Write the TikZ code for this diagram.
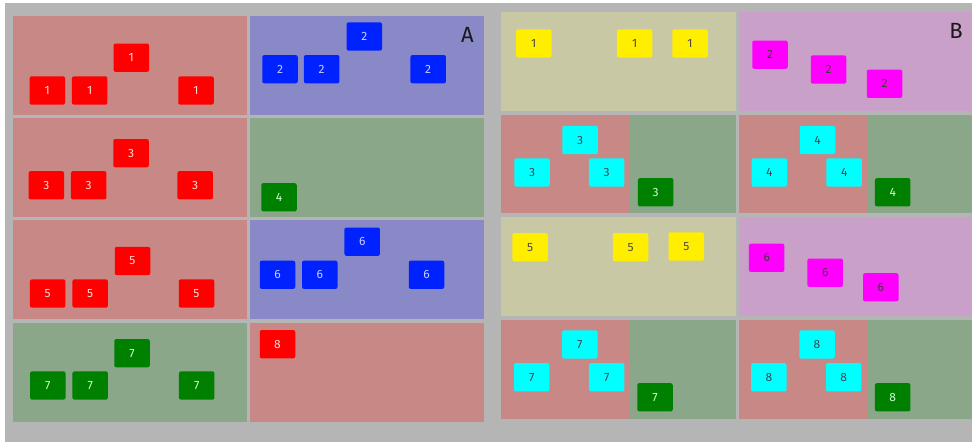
\documentclass[tikz,border=0pt]{standalone}
\usepackage{fontspec}
\setmainfont{Fira Sans}
\definecolor{bggray}{HTML}{B5B5B5}
\definecolor{cellred}{HTML}{C88886}
\definecolor{cellblue}{HTML}{8A89C8}
\definecolor{cellgreen}{HTML}{8AA889}
\definecolor{cellyellow}{HTML}{C8C8A4}
\definecolor{cellpink}{HTML}{C8A0C8}
\definecolor{tred}{HTML}{FF0000}
\definecolor{tblue}{HTML}{0022FF}
\definecolor{tgreen}{HTML}{008000}
\definecolor{tyellow}{HTML}{FFEE00}
\definecolor{tmag}{HTML}{FF00FF}
\definecolor{tcyan}{HTML}{00FFFF}
\tikzset{
  tilebase/.style={rectangle, rounded corners=2pt, minimum width=35.5pt, minimum height=28.3pt, inner sep=0pt, font=\fontsize{12}{12}\selectfont},
  tR/.style={tilebase, fill=tred, text=red!15!white},
  tB/.style={tilebase, fill=tblue, text=blue!20!white},
  tG/.style={tilebase, fill=tgreen, text=green!20!white},
  tY/.style={tilebase, fill=tyellow, text=black!80!yellow},
  tM/.style={tilebase, fill=tmag, text=black!85!magenta},
  tC/.style={tilebase, fill=tcyan, text=black!80!cyan},
  panellabel/.style={font=\fontsize{22}{22}\selectfont, text=black!90, inner sep=0pt}
}
\begin{document}
\begin{tikzpicture}[x=1pt,y=-1pt]
\useasboundingbox (0,0) rectangle (972,442);
\fill[white] (0,0) rectangle (972,442);
\fill[bggray] (5,3) rectangle (972,442);
% ---- Panel A cells
\fill[cellred]   (12.5,15.7) rectangle (246.5,115);
\fill[cellblue]  (249.7,15.7) rectangle (483.7,115);
\fill[cellred]   (12.5,118.3) rectangle (246.5,217.3);
\fill[cellgreen] (249.7,118.3) rectangle (483.7,217.3);
\fill[cellred]   (12.5,220.3) rectangle (246.5,319.3);
\fill[cellblue]  (249.7,220.3) rectangle (483.7,319.3);
\fill[cellgreen] (12.5,322.7) rectangle (246.5,422);
\fill[cellred]   (249.7,322.7) rectangle (483.7,422);
% ---- Panel B cells
\fill[cellyellow] (500.7,12.3) rectangle (735.7,111);
\fill[cellpink]   (738.5,12.3) rectangle (972,111);
\fill[cellred]    (500.7,115) rectangle (629,213.3);
\fill[cellgreen]  (629,115) rectangle (735.7,213.3);
\fill[cellred]    (738.5,115) rectangle (866.7,213.3);
\fill[cellgreen]  (866.7,115) rectangle (972,213.3);
\fill[cellyellow] (500.7,216.7) rectangle (735.7,316.3);
\fill[cellpink]   (738.5,216.7) rectangle (972,316.3);
\fill[cellred]    (500.7,320) rectangle (629,418.7);
\fill[cellgreen]  (629,320) rectangle (735.7,418.7);
\fill[cellred]    (738.5,320) rectangle (866.7,418.7);
\fill[cellgreen]  (866.7,320) rectangle (972,418.7);
% ---- labels
\node[panellabel] (labA) at (467.5,35) {A};
\node[panellabel] (labB) at (956,31.3) {B};
% ---- Panel A tiles
\node[tR] (a1t) at (131.3,57.7) {1};
\node[tR] (a1a) at (47.3,90.5) {1};
\node[tR] (a1b) at (89.7,90.5) {1};
\node[tR] (a1c) at (196,90.5) {1};
\node[tB] (a2t) at (364.3,36.5) {2};
\node[tB] (a2a) at (280,69.2) {2};
\node[tB] (a2b) at (321.7,69.2) {2};
\node[tB] (a2c) at (428.2,69.2) {2};
\node[tR] (a3t) at (131,153.2) {3};
\node[tR] (a3a) at (46.3,185.3) {3};
\node[tR] (a3b) at (88.7,185.3) {3};
\node[tR] (a3c) at (195.2,185.3) {3};
\node[tG] (a4) at (279,197.3) {4};
\node[tR] (a5t) at (132.5,261) {5};
\node[tR] (a5a) at (47.7,293.5) {5};
\node[tR] (a5b) at (90.2,293.5) {5};
\node[tR] (a5c) at (196.5,293.5) {5};
\node[tB] (a6t) at (362.2,241.7) {6};
\node[tB] (a6a) at (277.5,274.8) {6};
\node[tB] (a6b) at (319.8,274.8) {6};
\node[tB] (a6c) at (426.5,274.8) {6};
\node[tG] (a7t) at (132,353.2) {7};
\node[tG] (a7a) at (47.8,385.5) {7};
\node[tG] (a7b) at (90.2,385.5) {7};
\node[tG] (a7c) at (196.7,385.5) {7};
\node[tR] (a8) at (277.5,344.2) {8};
% ---- Panel B tiles
\node[tY] (b1a) at (533.8,43.5) {1};
\node[tY] (b1b) at (634.7,43.5) {1};
\node[tY] (b1c) at (690,43.5) {1};
\node[tM] (b2a) at (770,54.7) {2};
\node[tM] (b2b) at (828.5,69.5) {2};
\node[tM] (b2c) at (884.5,83.8) {2};
\node[tC] (b3t) at (580.2,140) {3};
\node[tC] (b3a) at (532,172.5) {3};
\node[tC] (b3b) at (606.7,172.5) {3};
\node[tG] (b3g) at (655.7,192.3) {3};
\node[tC] (b4t) at (817.5,140) {4};
\node[tC] (b4a) at (769.3,172.5) {4};
\node[tC] (b4b) at (844.2,172.5) {4};
\node[tG] (b4g) at (892.7,192.3) {4};
\node[tY] (b5a) at (530.2,247.2) {5};
\node[tY] (b5b) at (630.5,247.2) {5};
\node[tY] (b5c) at (686.3,246.5) {5};
\node[tM] (b6a) at (766.7,257.8) {6};
\node[tM] (b6b) at (825.2,272.7) {6};
\node[tM] (b6c) at (880.8,287.3) {6};
\node[tC] (b7t) at (579.8,344.5) {7};
\node[tC] (b7a) at (531.7,377.3) {7};
\node[tC] (b7b) at (606.7,377.3) {7};
\node[tG] (b7g) at (655,397.3) {7};
\node[tC] (b8t) at (817,344.5) {8};
\node[tC] (b8a) at (768.8,377.3) {8};
\node[tC] (b8b) at (843.7,377.3) {8};
\node[tG] (b8g) at (892.7,397.3) {8};
\end{tikzpicture}
\end{document}
